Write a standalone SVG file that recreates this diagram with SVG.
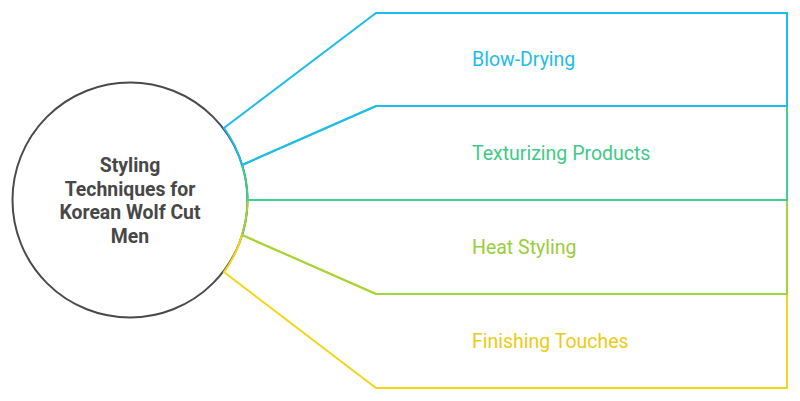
<svg xmlns="http://www.w3.org/2000/svg" width="800" height="401" viewBox="0 0 800 401">
<style>
.band{fill:none;stroke-width:2;stroke-linejoin:miter}
.lbl{font-family:Roboto,"Liberation Sans",sans-serif;font-size:19.5px}
.ctr{font-family:Roboto,"Liberation Sans",sans-serif;font-size:19.4px;font-weight:bold;fill:#484848;text-anchor:middle}
</style>
<rect width="800" height="401" fill="#ffffff"/>
<g id="center">
<circle cx="130" cy="200" r="117.5" fill="none" stroke="#4a4a4a" stroke-width="2"/>
<text class="ctr"><tspan x="130" y="172">Styling</tspan><tspan x="130" y="195.5">Techniques for</tspan><tspan x="130" y="219">Korean Wolf Cut</tspan><tspan x="130" y="242.5">Men</tspan></text>
</g>
<g id="connectors">
<path id="band-finishing" class="band" stroke="#F3D61A" d="M 242 235 A 117.5 117.5 0 0 1 224 272 L 376 388 L 787 388 L 787 294 L 376 294 Z"/>
<path id="band-heat" class="band" stroke="#A2D53C" d="M 247.5 200 A 117.5 117.5 0 0 1 242 235 L 376 294 L 787 294 L 787 200 Z"/>
<path id="band-texture" class="band" stroke="#3FD18F" d="M 242 165 A 117.5 117.5 0 0 1 247.5 200 L 787 200 L 787 106 L 376 106 Z"/>
<path id="band-blow" class="band" stroke="#1EBCEC" d="M 224 128 A 117.5 117.5 0 0 1 242 165 L 376 106 L 787 106 L 787 13 L 376 13 Z"/>
</g>
<g id="node-blow"><text class="lbl" x="472" y="66" fill="#1EBCEC">Blow-Drying</text></g>
<g id="node-texture"><text class="lbl" x="472" y="160" fill="#3FC987">Texturizing Products</text></g>
<g id="node-heat"><text class="lbl" x="472" y="254" fill="#9ACD3A">Heat Styling</text></g>
<g id="node-finishing"><text class="lbl" x="472" y="348" fill="#EBCB14">Finishing Touches</text></g>
</svg>
